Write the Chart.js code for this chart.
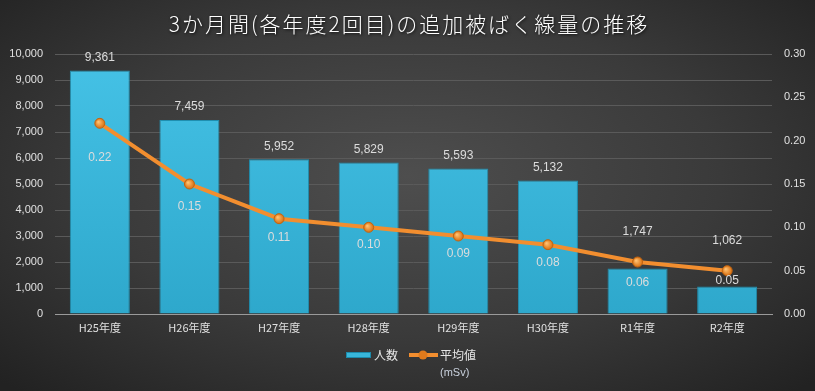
<!DOCTYPE html>
<html>
<head>
<meta charset="utf-8">
<script src="https://cdn.jsdelivr.net/npm/chart.js@4"></script>
<style>
  html, body { margin: 0; padding: 0; }
  body {
    width: 815px; height: 391px; overflow: hidden;
    background: radial-gradient(ellipse 70% 75% at 50% 45%, #4e4e4e 0%, #3a3a3a 55%, #222 100%);
  }
  #wrap { position: relative; width: 815px; height: 391px; }
</style>
</head>
<body>
<div id="wrap"><canvas id="chart" width="815" height="391"></canvas></div>
<script>
// Data
const categories = ['H25年度', 'H26年度', 'H27年度', 'H28年度', 'H29年度', 'H30年度', 'R1年度', 'R2年度'];
const peopleCount = [9361, 7459, 5952, 5829, 5593, 5132, 1747, 1062];
const avgDose = [0.22, 0.15, 0.11, 0.10, 0.09, 0.08, 0.06, 0.05];
const titleText = '3か月間(各年度2回目)の追加被ばく線量の推移';

// label offsets (px), as placed in the original
const barLabelOffsets = [13, 13, 13, 13, 13, 13, 37, 46];
const lineLabelOffsets = [34, 23, 19, 17, 18, 18, 21, 10];

const JP_FONT = '"Noto Sans CJK JP", "Noto Sans", sans-serif';
const NUM_FONT = '"Liberation Sans", "DejaVu Sans", sans-serif';
const BAR_COLOR = '#38b6da';
const LINE_COLOR = '#f28e2f';

const barGradient = (ctx) => {
    const area = ctx.chart.chartArea;
    if (!area) return BAR_COLOR;
    const g = ctx.chart.ctx.createLinearGradient(0, area.top, 0, area.bottom);
    g.addColorStop(0, '#45c2e6');
    g.addColorStop(1, '#2ea8cc');
    return g;
};

// Data labels, title and legend
const labelsPlugin = {
    id: 'labels',
    afterDatasetsDraw(chart) {
        const ctx = chart.ctx;
        ctx.save();
        ctx.fillStyle = '#dcdcdc';
        ctx.font = '12px ' + NUM_FONT;
        ctx.textAlign = 'center';
        ctx.textBaseline = 'middle';
        chart.getDatasetMeta(1).data.forEach((bar, i) => {
            ctx.fillText(peopleCount[i].toLocaleString('en-US'), bar.x, bar.y - barLabelOffsets[i]);
        });
        chart.getDatasetMeta(0).data.forEach((pt, i) => {
            ctx.fillText(avgDose[i].toFixed(2), pt.x, pt.y + lineLabelOffsets[i]);
        });
        ctx.restore();
    },
    afterDraw(chart) {
        const ctx = chart.ctx;
        ctx.save();
        // title
        ctx.font = '300 21px ' + JP_FONT;
        ctx.letterSpacing = '2px';
        ctx.textAlign = 'center';
        ctx.textBaseline = 'middle';
        ctx.shadowColor = 'rgba(0,0,0,0.8)';
        ctx.shadowBlur = 3;
        ctx.shadowOffsetX = 1;
        ctx.shadowOffsetY = 1;
        ctx.fillStyle = '#ffffff';
        ctx.fillText(titleText, 409, 24);
        ctx.shadowColor = 'transparent';
        ctx.letterSpacing = '0px';

        // legend
        const y = 355;
        ctx.fillStyle = BAR_COLOR;
        ctx.strokeStyle = '#1d8aaa';
        ctx.lineWidth = 1;
        ctx.fillRect(346, y - 3, 25, 6);
        ctx.strokeRect(346.5, y - 2.5, 24, 5);
        ctx.font = '12px ' + JP_FONT;
        ctx.fillStyle = '#e6e6e6';
        ctx.textAlign = 'left';
        ctx.fillText('人数', 374, y);

        ctx.strokeStyle = LINE_COLOR;
        ctx.lineWidth = 4;
        ctx.beginPath();
        ctx.moveTo(409, y);
        ctx.lineTo(438, y);
        ctx.stroke();
        ctx.beginPath();
        ctx.arc(423, y, 4.5, 0, Math.PI * 2);
        ctx.fillStyle = '#e07a1c';
        ctx.fill();
        ctx.fillStyle = '#e6e6e6';
        ctx.fillText('平均値', 440, y);
        ctx.font = '11px ' + NUM_FONT;
        ctx.fillStyle = '#c8d0dc';
        ctx.fillText('(mSv)', 440, y + 18);
        ctx.restore();
    }
};

const pointGradient = (ctx) => {
    const el = ctx.element;
    if (!el || el.x === undefined) return LINE_COLOR;
    const g = ctx.chart.ctx.createRadialGradient(el.x - 1.5, el.y - 1.5, 0.5, el.x, el.y, 5);
    g.addColorStop(0, '#ffc070');
    g.addColorStop(1, '#d86f10');
    return g;
};

new Chart(document.getElementById('chart'), {
    data: {
        labels: categories,
        datasets: [
            {
                type: 'line',
                label: '平均値',
                data: avgDose,
                yAxisID: 'y1',
                borderColor: LINE_COLOR,
                borderWidth: 4,
                pointRadius: 5,
                pointBackgroundColor: pointGradient,
                pointBorderColor: '#c26512',
                pointBorderWidth: 1,
                tension: 0,
                order: 0
            },
            {
                type: 'bar',
                label: '人数',
                data: peopleCount,
                yAxisID: 'y',
                backgroundColor: barGradient,
                borderColor: '#1f8fb0',
                borderWidth: 1,
                categoryPercentage: 0.67,
                barPercentage: 1,
                order: 1
            }
        ]
    },
    options: {
        responsive: false,
        animation: false,
        layout: { padding: { top: 54, bottom: 49, left: 0, right: 0 } },
        plugins: {
            legend: { display: false },
            title: { display: false },
            tooltip: { enabled: false }
        },
        scales: {
            x: {
                grid: { display: false, drawTicks: false },
                border: { color: '#9a9a9a' },
                ticks: { color: '#e0e0e0', font: { size: 11, family: JP_FONT }, padding: 7 },
                afterFit: (s) => { s.height = 28; }
            },
            y: {
                position: 'left',
                min: 0, max: 10000,
                ticks: {
                    stepSize: 1000,
                    color: '#e0e0e0',
                    font: { size: 11, family: NUM_FONT },
                    padding: 12,
                    callback: (v) => v.toLocaleString('en-US')
                },
                grid: { color: '#5a5a5a', drawTicks: false },
                border: { display: false },
                afterFit: (s) => { s.width = 55; }
            },
            y1: {
                position: 'right',
                min: 0, max: 0.30,
                ticks: {
                    stepSize: 0.05,
                    color: '#e0e0e0',
                    font: { size: 11, family: NUM_FONT },
                    padding: 12,
                    callback: (v) => v.toFixed(2)
                },
                grid: { display: false, drawTicks: false },
                border: { display: false },
                afterFit: (s) => { s.width = 43; }
            }
        }
    },
    plugins: [labelsPlugin]
});
</script>
</body>
</html>
